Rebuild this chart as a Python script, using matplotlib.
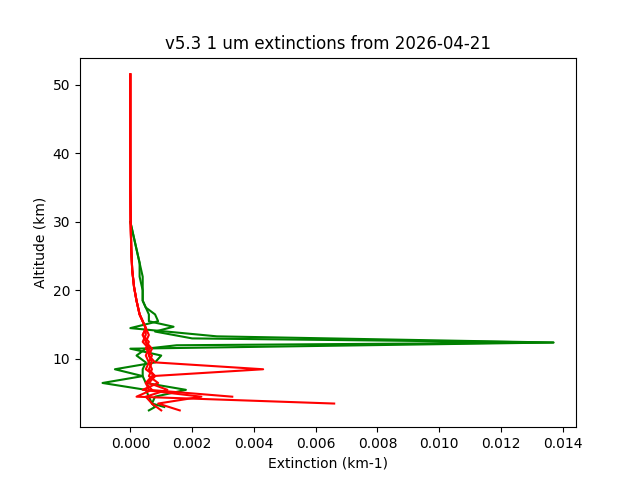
import matplotlib
matplotlib.use("Agg")
import matplotlib.pyplot as plt

# upper part shared shape for red profiles
alt_top = [14.5, 16.5, 18.5, 20.5, 23.0, 26.0, 30.0, 35.0, 40.0, 45.0, 51.5]

red_alts = [
    [3.5, 4.5, 5.5, 6.5, 7.5, 8.5, 9.5, 10.5, 11.5, 12.5, 13.5] + alt_top,
    [4.5, 5.5, 6.5, 7.5, 8.5, 9.5, 10.5, 11.5, 12.5, 13.5] + alt_top,
    [2.5, 3.5, 4.5, 5.5, 6.5, 7.5, 8.5, 9.5, 10.5, 11.5, 12.5, 13.5] + alt_top,
    [2.5, 3.5, 4.5, 5.5, 6.5, 7.5, 8.5, 9.5, 10.5, 11.5, 12.5, 13.5] + alt_top,
]
red_ext_top = [0.0005, 0.0003, 0.0002, 0.00012, 0.00006, 0.00003, 0.00001, 0.0, 0.0, 0.0, 0.0]
red_exts = [
    [0.0066, 0.0002, 0.0007, 0.0005, 0.0008, 0.0006, 0.0007, 0.0006, 0.0006, 0.0005, 0.0006] + red_ext_top,
    [0.0033, 0.0006, 0.0005, 0.0007, 0.0043, 0.0008, 0.0006, 0.0007, 0.0005, 0.0004] + red_ext_top,
    [0.0016, 0.0009, 0.0023, 0.0004, 0.0009, 0.0006, 0.0007, 0.0006, 0.0005, 0.0006, 0.0004, 0.0005] + red_ext_top,
    [0.0010, 0.0007, 0.0005, 0.0012, 0.0006, 0.0008, 0.0005, 0.0006, 0.0007, 0.0005, 0.0006, 0.0004] + red_ext_top,
]

green_alts = [
    [2.5, 3.0, 3.5, 4.5, 5.5, 6.5, 7.5, 8.5, 9.5, 10.5, 11.5, 12.4, 13.3, 14.5,
     15.5, 16.5, 17.5, 18.5, 20.0, 22.0, 24.0, 26.0, 28.0, 30.0],
    [3.0, 3.5, 4.5, 5.5, 6.5, 7.5, 8.5, 9.5, 10.5, 11.5, 12.0, 12.4, 13.0, 14.0, 14.7,
     15.5, 16.5, 17.5, 18.5, 20.0, 22.0, 24.0, 26.0, 28.0, 30.0],
]
green_exts = [
    [0.0006, 0.0008, 0.0007, 0.0006, 0.0005, -0.0009, 0.0004, -0.0005, 0.0008, 0.0010,
     0.0000, 0.0137, 0.0028, -0.0000, 0.0009, 0.0008, 0.0005, 0.0004, 0.0004, 0.0004,
     0.0003, 0.0002, 0.0001, 0.0000],
    [0.0011, 0.0007, 0.0008, 0.0018, 0.0005, 0.0004, 0.0004, 0.0005, 0.0002, 0.0005,
     0.0015, 0.0137, 0.0020, 0.0008, 0.0014, 0.0006, 0.0006, 0.0005, 0.0004, 0.0004,
     0.0003, 0.0003, 0.0002, 0.0001, 0.0000],
]

fig, ax = plt.subplots(figsize=(6.4, 4.8), dpi=100)
for alt, ext in zip(green_alts, green_exts):
    ax.plot(ext, alt, color="green")
for alt, ext in zip(red_alts, red_exts):
    ax.plot(ext, alt, color="red")

ax.set_title("v5.3 1 um extinctions from 2026-04-21")
ax.set_xlabel("Extinction (km-1)")
ax.set_ylabel("Altitude (km)")
fig.savefig("out.png")
